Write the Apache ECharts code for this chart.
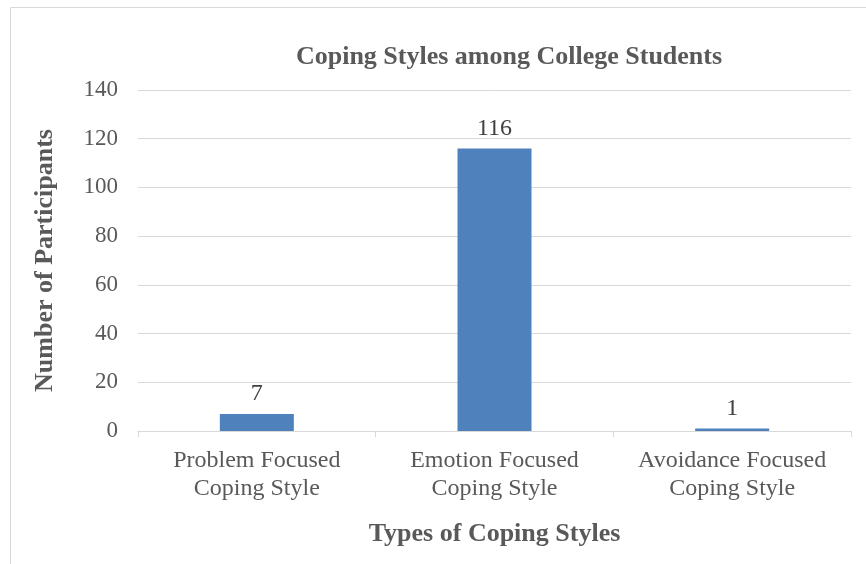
<!DOCTYPE html>
<html>
<head>
<meta charset="utf-8">
<script src="https://cdn.jsdelivr.net/npm/echarts@6/dist/echarts.min.js"></script>
<style>
html, body { margin: 0; padding: 0; background: #fff; }
#chart { width: 866px; height: 564px; }
</style>
</head>
<body>
<div id="chart"></div>
<script>
const categories = ['Problem Focused\nCoping Style', 'Emotion Focused\nCoping Style', 'Avoidance Focused\nCoping Style']
const participants = [7, 116, 1]

const serif = '"Liberation Serif", "Times New Roman", serif'
const gray = '#595959'

const chart = echarts.init(document.getElementById('chart'))
chart.setOption({
  animation: false,
  title: {
    text: 'Coping Styles among College Students',
    left: 504, top: 39, textAlign: 'center',
    textStyle: { fontFamily: serif, fontSize: 26, fontWeight: 'bold', color: gray },
  },
  graphic: [{
    type: 'rect',
    shape: { x: 10.5, y: 7.5, width: 900, height: 600 },
    style: { fill: 'none', stroke: '#d9d9d9', lineWidth: 1 },
    silent: true,
  }],
  grid: { left: 138, right: 15, top: 90, bottom: 133 },
  xAxis: {
    type: 'category',
    data: categories,
    name: 'Types of Coping Styles',
    nameLocation: 'middle',
    nameGap: 90,
    nameTextStyle: { fontFamily: serif, fontSize: 26, fontWeight: 'bold', color: gray },
    axisLine: { lineStyle: { color: '#d9d9d9', width: 1 } },
    axisTick: { show: true, length: 6, lineStyle: { color: '#d9d9d9' } },
    axisLabel: {
      interval: 0, hideOverlap: false,
      fontFamily: serif, fontSize: 24, color: gray, lineHeight: 28, margin: 16,
    },
  },
  yAxis: {
    type: 'value',
    min: 0, max: 140, interval: 20,
    name: 'Number of Participants',
    nameLocation: 'middle',
    nameGap: 80,
    nameTextStyle: { fontFamily: serif, fontSize: 26, fontWeight: 'bold', color: gray },
    axisLine: { show: false },
    axisTick: { show: false },
    axisLabel: { fontFamily: serif, fontSize: 23, color: gray, margin: 20 },
    splitLine: { lineStyle: { color: '#d9d9d9', width: 1 } },
  },
  series: [{
    type: 'bar',
    data: participants,
    barWidth: 74,
    itemStyle: { color: '#4f81bd' },
    label: {
      show: true, position: 'top', distance: 8,
      fontFamily: serif, fontSize: 24, color: '#404040',
    },
  }],
})
</script>
</body>
</html>
